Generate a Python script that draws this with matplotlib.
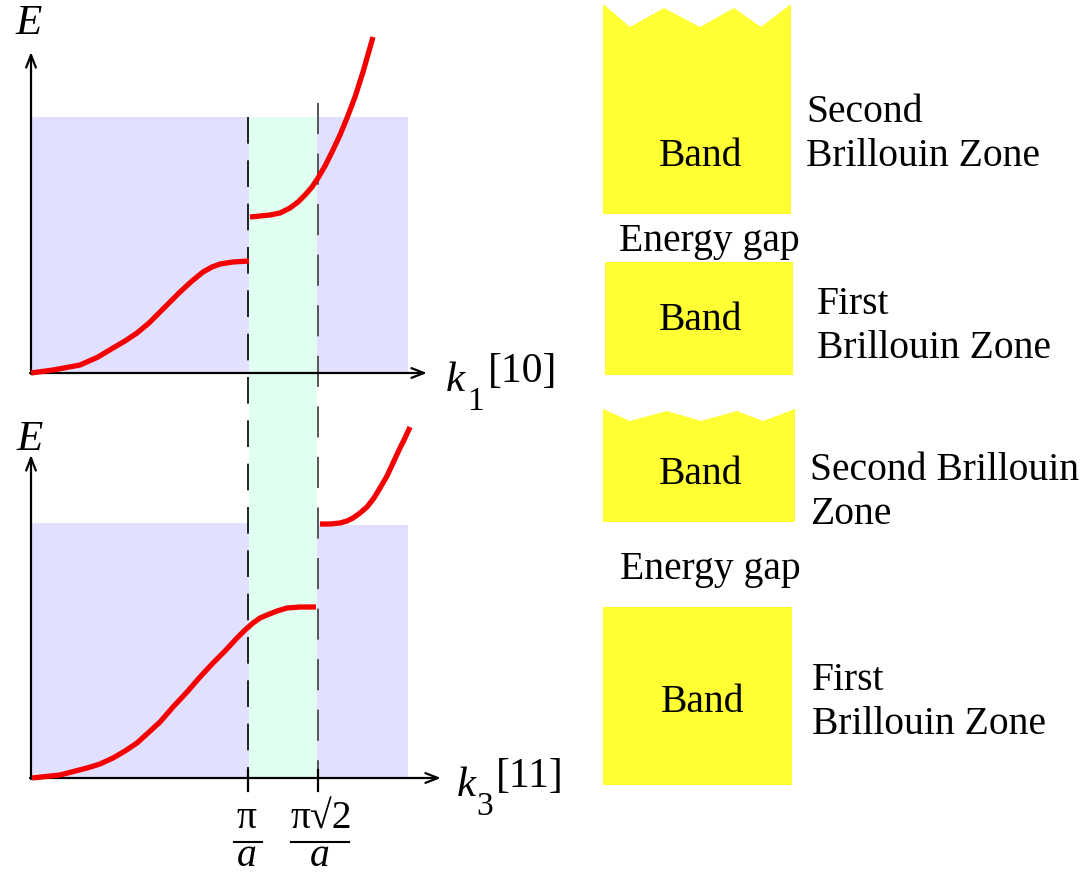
import matplotlib
matplotlib.use("Agg")
import matplotlib.pyplot as plt
from matplotlib.patches import Rectangle, Polygon

plt.rcParams['font.family'] = ['Liberation Serif', 'DejaVu Serif']

# ---- data (pixel-space diagram values) ----
top_lower_x = [31, 53, 80, 98, 113, 125, 137, 149, 160, 170, 180, 192, 203, 212, 220, 233, 249]
top_lower_y = [373, 370, 365, 357, 348, 341, 333, 323, 312, 302, 292, 281, 272, 267, 264, 262, 261]
top_upper_x = [250, 260, 270, 280, 290, 298, 305, 312, 318, 325, 332, 340, 347, 355, 363, 373]
top_upper_y = [217, 216, 215, 213, 208, 202, 195, 187, 178, 166, 152, 135, 118, 97, 72, 37]

bot_lower_x = [32, 60, 87, 100, 113, 125, 137, 148, 160, 173, 187, 200, 213, 225, 237,
               245, 253, 260, 267, 277, 287, 300, 316]
bot_lower_y = [778, 775, 768, 764, 758, 751, 743, 733, 722, 707, 692, 677, 663, 651, 638,
               630, 623, 618, 615, 611, 608, 607, 607]
bot_upper_x = [320, 330, 340, 347, 353, 360, 367, 374, 380, 387, 393, 400, 405, 410]
bot_upper_y = [524, 524, 523, 521, 518, 513, 507, 498, 488, 476, 463, 448, 438, 427]

tick_x = [248, 318]
tick_labels_num = ["π", "π√2"]

band_labels = ["Band", "Band", "Band", "Band"]
zone_labels = ["Second\nBrillouin Zone", "First\nBrillouin Zone",
               "Second Brillouin\nZone", "First\nBrillouin Zone"]
gap_label = "Energy gap"

W, H = 1089, 875
fig = plt.figure(figsize=(W / 100, H / 100), dpi=100)
ax = fig.add_axes([0, 0, 1, 1])
ax.set_xlim(0, W)
ax.set_ylim(H, 0)
ax.axis('off')

blue = '#e1e1ff'
green = '#e1fff1'
yellow = '#ffff33'
red = '#f50000'

# background regions
ax.add_patch(Rectangle((31, 117), 377, 256, color=blue, lw=0, zorder=1))
ax.add_patch(Rectangle((31, 523), 218, 255, color=blue, lw=0, zorder=1))
ax.add_patch(Rectangle((317, 525), 91, 253, color=blue, lw=0, zorder=1))
ax.add_patch(Rectangle((249, 117), 68, 661, color=green, lw=0, zorder=2))

# dashed lines
ax.plot([248, 248], [117, 778], color='black', lw=1.2, dashes=(16, 10), zorder=3)
ax.plot([318, 318], [103, 778], color='#555555', lw=1.4, dashes=(16, 10), zorder=3)

# axes with arrows
arrow = dict(arrowstyle='->,head_length=0.9,head_width=0.35', lw=1.6, color='black',
             shrinkA=0, shrinkB=0)
ax.annotate('', xy=(31, 52), xytext=(31, 374), arrowprops=arrow, zorder=5)
ax.annotate('', xy=(427, 373), xytext=(30, 373), arrowprops=arrow, zorder=5)
ax.annotate('', xy=(31, 455), xytext=(31, 779), arrowprops=arrow, zorder=5)
ax.annotate('', xy=(441, 778), xytext=(30, 778), arrowprops=arrow, zorder=5)

# ticks
for tx in tick_x:
    ax.plot([tx, tx], [770, 791], color='black', lw=1.6, zorder=5)

# curves
for xs, ys in [(top_lower_x, top_lower_y), (top_upper_x, top_upper_y),
               (bot_lower_x, bot_lower_y), (bot_upper_x, bot_upper_y)]:
    ax.plot(xs, ys, color=red, lw=3.8, solid_capstyle='butt', solid_joinstyle='round',
            zorder=6)

fs = 28.5
# axis labels
ax.text(29, 24, "E", fontsize=31, style='italic', ha='center', va='center')
ax.text(30, 440, "E", fontsize=31, style='italic', ha='center', va='center')

ax.text(455, 391, "k", fontsize=31, style='italic', ha='center', va='baseline')
ax.text(475, 410, "1", fontsize=24, ha='center', va='baseline')
ax.text(488, 382, "[10]", fontsize=30, ha='left', va='baseline')

ax.text(466, 796, "k", fontsize=31, style='italic', ha='center', va='baseline')
ax.text(485, 815, "3", fontsize=24, ha='center', va='baseline')
ax.text(496, 787, "[11]", fontsize=30, ha='left', va='baseline')

# tick labels as fractions
ax.text(247, 828, tick_labels_num[0], fontsize=fs, ha='center', va='baseline')
ax.plot([234, 262], [842, 842], color='black', lw=1.5)
ax.text(247, 866, "a", fontsize=fs, style='italic', ha='center', va='baseline')

ax.text(321, 828, tick_labels_num[1], fontsize=fs, ha='center', va='baseline')
ax.plot([291, 349], [842, 842], color='black', lw=1.5)
ax.text(320, 866, "a", fontsize=fs, style='italic', ha='center', va='baseline')

# yellow boxes
box1 = [(603, 4), (630, 27), (664, 8), (700, 27), (734, 8), (761, 27), (791, 4),
        (791, 214), (603, 214)]
ax.add_patch(Polygon(box1, closed=True, color=yellow, lw=0))
ax.add_patch(Rectangle((605, 262), 188, 113, color=yellow, lw=0))
box3 = [(603, 409), (630, 421), (667, 411), (701, 421), (737, 411), (763, 421),
        (795, 409), (795, 522), (603, 522)]
ax.add_patch(Polygon(box3, closed=True, color=yellow, lw=0))
ax.add_patch(Rectangle((603, 607), 189, 178, color=yellow, lw=0))

band_pos = [(701, 156), (701, 320), (701, 475), (703, 703)]
for (bx, by), lab in zip(band_pos, band_labels):
    ax.text(bx, by, lab, fontsize=fs, ha='center', va='center')

zone_pos = [(806, 135), (817, 326), (810, 493), (812, 702)]
for (zx, zy), lab in zip(zone_pos, zone_labels):
    ax.text(zx, zy, lab, fontsize=fs, ha='left', va='center', linespacing=1.25)

ax.text(709, 241, gap_label, fontsize=fs, ha='center', va='center')
ax.text(710, 570, gap_label, fontsize=fs, ha='center', va='center')

fig.savefig("out.png", dpi=100)
